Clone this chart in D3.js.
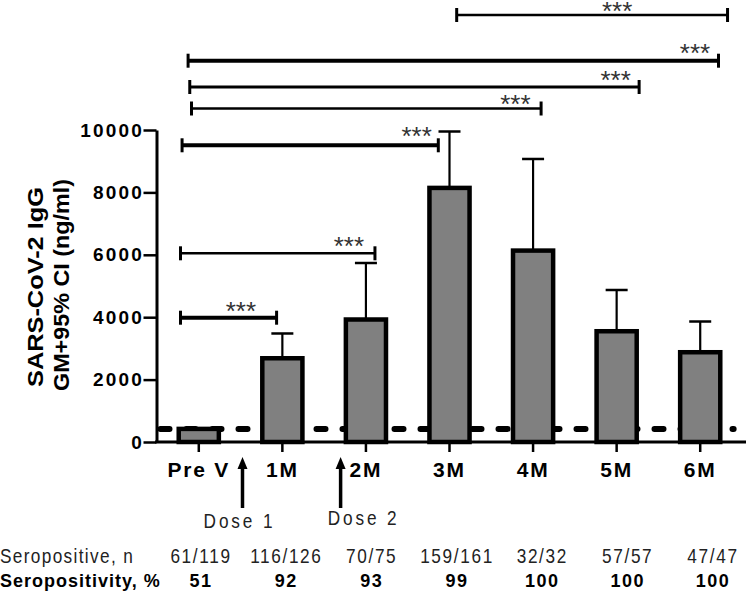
<!DOCTYPE html>
<html><head><meta charset="utf-8">
<script src="https://cdn.jsdelivr.net/npm/d3@7"></script>
<style>html,body{margin:0;padding:0;background:#fff}</style>
</head><body>
<svg id="chart" width="747" height="591"></svg>
<script>
// ---------------- data ----------------
const categories = ["Pre V", "1M", "2M", "3M", "4M", "5M", "6M"];
const gmValues   = [420, 2684, 3926, 8144, 6135, 3550, 2877];
const ciUpper    = [null, 3478, 5737, 9952, 9071, 4872, 3862];
const cutoffValue = 420;
const yTicks = [0, 2000, 4000, 6000, 8000, 10000];
const yTitleLines = ["SARS-CoV-2 IgG", "GM+95% CI (ng/ml)"];
// significance comparisons: from/to in category-index units, level in ng/ml
const comparisons = [
  {from: 3.086, to: 6.327, level: 13686, label: "***", labelAt: 5.006, labelLevel: 14000},
  {from: -0.128, to: 6.219, level: 12221, label: "***", labelAt: 5.937, labelLevel: 12644},
  {from: -0.108, to: 5.269, level: 11378, label: "***", labelAt: 4.988, labelLevel: 11763},
  {from: -0.087, to: 4.096, level: 10689, label: "***", labelAt: 3.788, labelLevel: 11010},
  {from: -0.200, to: 2.866, level: 9510,  label: "***", labelAt: 2.607, labelLevel: 9968},
  {from: -0.219, to: 2.108, level: 6048,  label: "***", labelAt: 1.796, labelLevel: 6474},
  {from: -0.219, to: 0.931, level: 3984,  label: "***", labelAt: 0.503, labelLevel: 4391}
];
const doseEvents = [
  {label: "Dose 1", at: 0.523},
  {label: "Dose 2", at: 1.697}
];
const tableRowLabels = ["Seropositive, n", "Seropositivity, %"];
const seropositiveN = ["61/119", "116/126", "70/75", "159/161", "32/32", "57/57", "47/47"];
const seropositivityPct = ["51", "92", "93", "99", "100", "100", "100"];

// ---------------- drawing ----------------
const svg = d3.select("#chart");
const axisX = 156.5, axisY = 442;
const x = d3.scaleBand().domain(categories).range([157, 742]).paddingInner(0.52).paddingOuter(0.26);
const bw = x.bandwidth();
const xi = d3.scaleLinear().domain([0, 6]).range([x(categories[0]) + bw / 2, x(categories[6]) + bw / 2]);
const y = d3.scaleLinear().domain([0, 10000]).range([axisY, 130]);
const tableX = d3.scaleLinear().domain([0, 6]).range([201, 713]);

const boldFont = "'Liberation Sans', Arial, sans-serif";
const narrowScale = 0.82;

// narrow text helper (condensed Arial look)
function narrowText(g, tx, ty, str, size, spacing, anchor, fill) {
  return g.append("text")
    .attr("transform", `translate(${tx},${ty}) scale(${narrowScale},1)`)
    .attr("text-anchor", anchor).attr("fill", fill)
    .style("font-family", boldFont).style("font-size", size + "px")
    .style("letter-spacing", spacing + "px")
    .text(str);
}

// cutoff dashed line
svg.append("line")
  .attr("x1", axisX + 4).attr("x2", xi(6.4))
  .attr("y1", y(cutoffValue)).attr("y2", y(cutoffValue))
  .attr("stroke", "#000").attr("stroke-width", 6)
  .attr("stroke-linecap", "round").attr("stroke-dasharray", "9 17");

// error bars
const eb = svg.append("g");
categories.forEach((c, i) => {
  if (ciUpper[i] == null) return;
  const cx = x(c) + bw / 2;
  eb.append("line").attr("x1", cx).attr("x2", cx)
    .attr("y1", y(gmValues[i])).attr("y2", y(ciUpper[i]))
    .attr("stroke", "#000").attr("stroke-width", 2.2);
  eb.append("line").attr("x1", cx - 11).attr("x2", cx + 11)
    .attr("y1", y(ciUpper[i])).attr("y2", y(ciUpper[i]))
    .attr("stroke", "#000").attr("stroke-width", 2.5);
});

// bars
svg.append("g").selectAll("rect").data(categories).join("rect")
  .attr("x", d => x(d)).attr("width", bw)
  .attr("y", (d, i) => y(gmValues[i]))
  .attr("height", (d, i) => y(0) - y(gmValues[i]))
  .attr("fill", "#808080").attr("stroke", "#000").attr("stroke-width", 4.5);

// y axis
const yAxis = svg.append("g").attr("transform", `translate(${axisX},0)`)
  .call(d3.axisLeft(y).tickValues(yTicks).tickSize(13).tickSizeOuter(0).tickPadding(0).tickFormat(d3.format("d")));
yAxis.select(".domain").attr("stroke", "#000").attr("stroke-width", 3);
yAxis.selectAll(".tick line").attr("stroke", "#000").attr("stroke-width", 2.5);
yAxis.selectAll(".tick text").attr("fill", "#000")
  .style("font-family", boldFont).style("font-weight", "bold")
  .style("font-size", "19px").style("letter-spacing", "2.2px").attr("x", -12.5);

// x axis
const xAxis = svg.append("g").attr("transform", `translate(0,${axisY})`)
  .call(d3.axisBottom(x).tickSize(10).tickSizeOuter(0).tickPadding(10));
xAxis.select(".domain").remove();
xAxis.selectAll(".tick line").attr("stroke", "#000").attr("stroke-width", 2.5);
xAxis.selectAll(".tick text").attr("fill", "#000")
  .style("font-family", boldFont).style("font-weight", "bold")
  .style("font-size", "21px").style("letter-spacing", "1.8px");
svg.append("line").attr("x1", axisX - 1.5).attr("x2", 746)
  .attr("y1", axisY).attr("y2", axisY).attr("stroke", "#000").attr("stroke-width", 3);

// y title
const titleBase = [43.3, 69.3], titleLen = [200, 212], titleMid = [287, 285];
yTitleLines.forEach((t, i) => {
  svg.append("text")
    .attr("transform", `translate(${titleBase[i]},${titleMid[i]}) rotate(-90)`)
    .attr("text-anchor", "middle")
    .attr("textLength", titleLen[i]).attr("lengthAdjust", "spacingAndGlyphs")
    .style("font-family", boldFont).style("font-weight", "bold").style("font-size", "22px")
    .text(t);
});

// significance brackets
const bracketWidths = [2.5, 4, 3, 2.5, 4, 2.5, 4];
const br = svg.append("g");
comparisons.forEach((c, i) => {
  const yy = y(c.level), x1 = xi(c.from), x2 = xi(c.to), w = bracketWidths[i];
  br.append("line").attr("x1", x1).attr("x2", x2).attr("y1", yy).attr("y2", yy)
    .attr("stroke", "#000").attr("stroke-width", w);
  [x1, x2].forEach(xx => br.append("line").attr("x1", xx).attr("x2", xx)
    .attr("y1", yy - 7).attr("y2", yy + 7).attr("stroke", "#000").attr("stroke-width", 3));
  br.append("text").attr("x", xi(c.labelAt)).attr("y", y(c.labelLevel) + 14.5)
    .attr("text-anchor", "middle").attr("fill", "#333")
    .style("font-family", boldFont).style("font-size", "26px").style("letter-spacing", "0px")
    .text(c.label);
});

// dose arrows
const doseLabelOffset = [-3, 23], doseLabelBase = [528, 525];
doseEvents.forEach((d, i) => {
  const ax = xi(d.at);
  svg.append("line").attr("x1", ax).attr("x2", ax).attr("y1", 508).attr("y2", 466)
    .attr("stroke", "#000").attr("stroke-width", 3.5);
  svg.append("path").attr("d", `M${ax},457 L${ax - 5},469 L${ax + 5},469 Z`).attr("fill", "#000");
  narrowText(svg, ax + doseLabelOffset[i], doseLabelBase[i], d.label, 21, 3.5, "middle", "#222");
});

// table
const rowBase = [563, 587];
narrowText(svg, 0, rowBase[0], tableRowLabels[0], 21, 1.65, "start", "#222");
svg.append("text").attr("x", 0).attr("y", rowBase[1]).attr("fill", "#000")
  .style("font-family", boldFont).style("font-weight", "bold").style("font-size", "18px").style("letter-spacing", "1px")
  .text(tableRowLabels[1]);
const row1 = svg.append("g");
seropositiveN.forEach((s, i) => narrowText(row1, tableX(i), rowBase[0], s, 21, 2, "middle", "#222"));
svg.append("g").selectAll("text").data(seropositivityPct).join("text")
  .attr("x", (d, i) => tableX(i)).attr("y", rowBase[1]).attr("text-anchor", "middle").attr("fill", "#000")
  .style("font-family", boldFont).style("font-weight", "bold").style("font-size", "18px").style("letter-spacing", "1.5px")
  .text(d => d);
</script>
</body></html>
